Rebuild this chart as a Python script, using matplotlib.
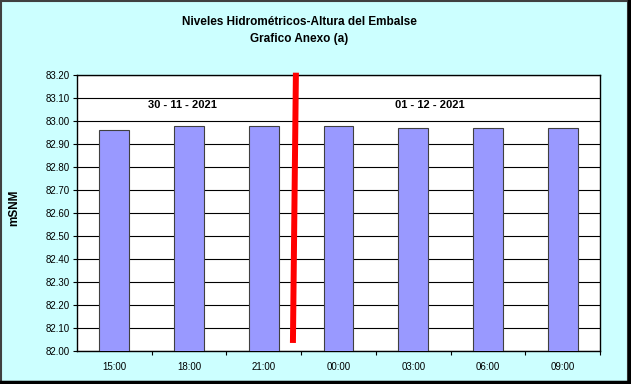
import matplotlib
matplotlib.use("Agg")
import matplotlib.pyplot as plt
from matplotlib.patches import Rectangle
from matplotlib.lines import Line2D

categories = ["15:00", "18:00", "21:00", "00:00", "03:00", "06:00", "09:00"]
values = [82.96, 82.98, 82.98, 82.98, 82.97, 82.97, 82.97]
yticks = [82.0 + 0.1 * i for i in range(13)]
date_labels = ["30 - 11 - 2021", "01 - 12 - 2021"]
date_x = [0.45, 3.76]
date_y = 83.07
divider_x = [2.43, 2.39]
divider_y = [83.21, 82.035]

plt.rcParams['font.family'] = ['Liberation Sans', 'DejaVu Sans']

fig = plt.figure(figsize=(6.31, 3.84), dpi=100)
fig.patch.set_facecolor('#CCFFFF')

# outer border
fig.add_artist(Rectangle((0.002, 0.004), 0.994, 0.993, transform=fig.transFigure,
                         fill=False, edgecolor='#404040', linewidth=1.5))
fig.add_artist(Line2D([0.997, 0.997], [0.004, 0.997], transform=fig.transFigure,
                      color='black', linewidth=2.5))
fig.add_artist(Line2D([0.002, 0.997], [0.005, 0.005], transform=fig.transFigure,
                      color='black', linewidth=2.5))

ax = fig.add_axes([77/631, 33/384, 523/631, 276/384])
ax.set_facecolor('white')

x = list(range(len(categories)))
ax.bar(x, values, width=0.4, bottom=0, color='#9999FF', edgecolor='#404040',
       linewidth=0.8, zorder=3)

ax.set_xlim(-0.5, len(categories) - 0.5)
ax.set_ylim(82.0, 83.2)
ax.set_yticks(yticks)
ax.set_yticklabels([f"{v:.2f}" for v in yticks], fontsize=7)
ax.yaxis.grid(True, color='black', linewidth=0.8, zorder=0)
ax.set_axisbelow(True)

ax.set_xticks([i + 0.5 for i in x], minor=False)
ax.set_xticklabels([])
ax.set_xticks(x, minor=True)
ax.set_xticklabels(categories, minor=True, fontsize=7)
ax.tick_params(axis='x', which='minor', length=0, pad=8)
ax.tick_params(axis='x', which='major', length=3, direction='out')
ax.tick_params(axis='y', length=3, direction='out', pad=2)

for s in ax.spines.values():
    s.set_color('black')
    s.set_linewidth(1.0)

for lbl, xx in zip(date_labels, date_x):
    ax.text(xx, date_y, lbl, fontsize=8, fontweight='bold', ha='left', va='center')

ax.plot(divider_x, divider_y, color='#FF0000', linewidth=4.3, clip_on=False,
        zorder=5, solid_capstyle='butt')

fig.text(299/631, 1 - 22/384, "Niveles Hidrométricos-Altura del Embalse",
         ha='center', va='center', fontsize=8.5, fontweight='bold')
fig.text(299/631, 1 - 39/384, "Grafico Anexo (a)",
         ha='center', va='center', fontsize=8.5, fontweight='bold')
fig.text(14/631, 1 - 208/384, "mSNM", rotation=90, ha='center', va='center',
         fontsize=8.5, fontweight='bold')

fig.savefig("out.png", dpi=100, facecolor=fig.get_facecolor())
